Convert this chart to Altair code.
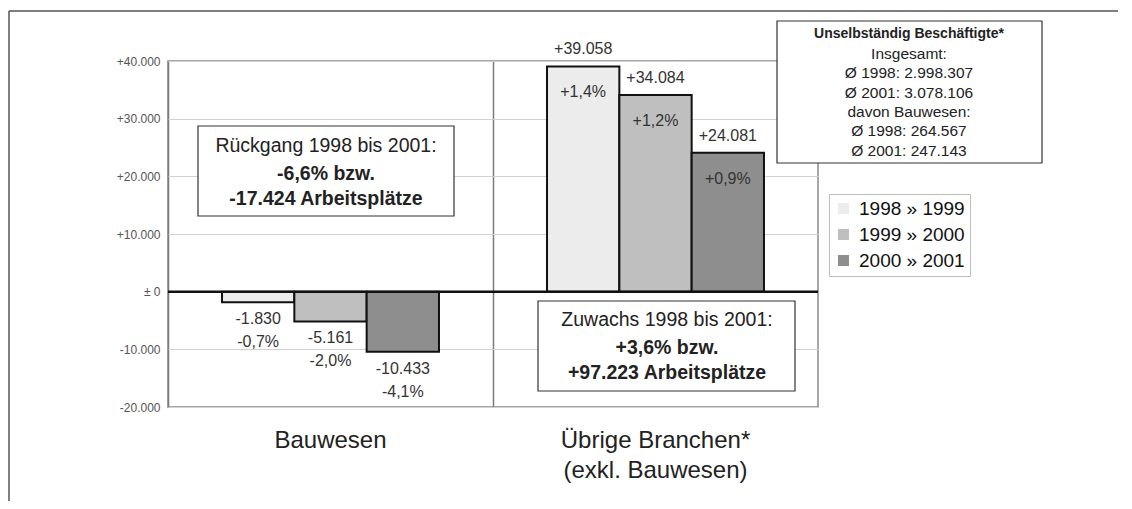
import altair as alt
import pandas as pd

# ---------------- data ----------------
CATEGORIES = ["Bauwesen", "Übrige Branchen*\n(exkl. Bauwesen)"]
SERIES = ["1998 » 1999", "1999 » 2000", "2000 » 2001"]
BAU_VALUES = [-1830, -5161, -10433]
OTHER_VALUES = [39058, 34084, 24081]
BAU_PCT = ["-0,7%", "-2,0%", "-4,1%"]
OTHER_PCT = ["+1,4%", "+1,2%", "+0,9%"]
Y_TICKS = [-20000, -10000, 0, 10000, 20000, 30000, 40000]
Y_TICK_LABELS = ["-20.000", "-10.000", "± 0", "+10.000", "+20.000", "+30.000", "+40.000"]
COLORS = ["#ececec", "#bfbfbf", "#8e8e8e"]

RUECKGANG_LINES = ["Rückgang 1998 bis 2001:", "-6,6% bzw.", "-17.424 Arbeitsplätze"]
ZUWACHS_LINES = ["Zuwachs 1998 bis 2001:", "+3,6% bzw.", "+97.223 Arbeitsplätze"]
INFO_TITLE = "Unselbständig Beschäftigte*"
INFO_LINES = ["Insgesamt:", "Ø 1998: 2.998.307", "Ø 2001: 3.078.106",
              "davon Bauwesen:", "Ø 1998: 264.567", "Ø 2001: 247.143"]

FONT = "Liberation Sans"


def fmt_value(v):
    s = f"{abs(v):,}".replace(",", ".")
    return ("+" if v > 0 else "-") + s


rows = []
for cat, vals, pcts in [(CATEGORIES[0], BAU_VALUES, BAU_PCT), (CATEGORIES[1], OTHER_VALUES, OTHER_PCT)]:
    for s, v, p in zip(SERIES, vals, pcts):
        rows.append({"category": cat, "series": s, "value": v, "vlabel": fmt_value(v), "pct": p})
df = pd.DataFrame(rows)

label_expr = "''"
for v, l in zip(Y_TICKS, Y_TICK_LABELS):
    label_expr = f"datum.value === {v} ? '{l}' : ({label_expr})"

x_enc = alt.X("category:N", sort=CATEGORIES, title=None,
              scale=alt.Scale(paddingInner=0, paddingOuter=0),
              axis=alt.Axis(labelExpr="split(datum.label, '\\n')", labelFont=FONT, labelFontSize=24,
                            labelColor="#222", labelPadding=21, labelLineHeight=30, tickSize=0,
                            labelLimit=0, ticks=False, domain=False, grid=True, bandPosition=0,
                            gridColor="#7a7a7a", gridWidth=1.5, labelAngle=0))
xo_enc = alt.XOffset("series:N", sort=SERIES,
                     scale=alt.Scale(paddingInner=0, paddingOuter=0.747))
y_enc = alt.Y("value:Q", title=None,
              scale=alt.Scale(domain=[-20000, 40000], nice=False, zero=False),
              axis=alt.Axis(values=Y_TICKS, labelExpr=label_expr, labelFont=FONT, labelFontSize=12,
                            labelColor="#555", labelPadding=8, ticks=False, domain=False,
                            grid=True, gridColor="#d2d2d2", gridWidth=1))

base = alt.Chart(df)

bars = base.mark_bar(stroke="#111", strokeWidth=2).encode(
    x=x_enc, xOffset=xo_enc, y=y_enc,
    color=alt.Color("series:N", sort=SERIES, scale=alt.Scale(domain=SERIES, range=COLORS),
                    legend=alt.Legend(title=None, orient="none", legendX=661, legendY=133,
                                      labelFont=FONT, labelFontSize=19, labelColor="#111",
                                      symbolType="square", symbolSize=121, symbolStrokeWidth=0,
                                      labelOffset=6, rowPadding=6, padding=5,
                                      strokeColor="#bdbdbd", fillColor="white")),
)

zero = alt.Chart(pd.DataFrame({"value": [0]})).mark_rule(color="#111", strokeWidth=2.5).encode(
    y=alt.Y("value:Q"))


def label_layer(filt, field, dy):
    return base.transform_filter(filt).mark_text(
        font=FONT, fontSize=16, color="#333", baseline="middle", align="center", dy=dy
    ).encode(x=alt.X("category:N", sort=CATEGORIES), xOffset=alt.XOffset("series:N", sort=SERIES),
             y=alt.Y("value:Q"), text=alt.Text(f"{field}:N"))


labels = [
    label_layer("datum.value > 0", "vlabel", -17),
    label_layer("datum.value < 0", "vlabel", 17),
    label_layer("datum.value > 0", "pct", 26),
    label_layer("datum.value < 0", "pct", 40),
]

one = pd.DataFrame({"k": [0]})


def box(x1, x2, y1, y2):
    return alt.Chart(one).mark_rect(fill="white", stroke="#333", strokeWidth=1.2).encode(
        x=alt.value(x1), x2=alt.value(x2), y=alt.value(y1), y2=alt.value(y2))


def line_text(txt, x, y, size, bold=False):
    return alt.Chart(one).mark_text(
        font=FONT, fontSize=size, fontWeight="bold" if bold else "normal",
        color="#222", align="center", baseline="middle"
    ).encode(x=alt.value(x), y=alt.value(y), text=alt.value(txt))


annots = []
# Rückgang box
annots.append(box(30, 286, 65, 155))
for t, yy, b in zip(RUECKGANG_LINES, [85, 113, 138], [False, True, True]):
    annots.append(line_text(t, 158, yy, 19.5, b))
# Zuwachs box
annots.append(box(370, 627, 240, 330))
for t, yy, b in zip(ZUWACHS_LINES, [259, 287, 312], [False, True, True]):
    annots.append(line_text(t, 499, yy, 19.5, b))
# Info box
annots.append(box(609, 874, -40, 102))
annots.append(line_text(INFO_TITLE, 741, -27, 14, True))
for i, t in enumerate(INFO_LINES):
    annots.append(line_text(t, 741, -7 + i * 19.3, 15.5))

# outer frame
frame_top = alt.Chart(one).mark_rule(color="#555", strokeWidth=1.5).encode(
    x=alt.value(-159), x2=alt.value(964), y=alt.value(-50))
frame_left = alt.Chart(one).mark_rule(color="#555", strokeWidth=1.5).encode(
    x=alt.value(-159), y=alt.value(-50), y2=alt.value(448))

chart = alt.layer(bars, zero, *labels, *annots, frame_top, frame_left).properties(
    width=650, height=346,
    padding={"left": 160, "top": 53, "right": 300, "bottom": 94},
    autosize=alt.AutoSizeParams(type="none"),
    background="white",
).configure_view(stroke="#8a8a8a", strokeWidth=1.5)

chart.save("out.html", embed_options={"renderer": "svg", "actions": False})
